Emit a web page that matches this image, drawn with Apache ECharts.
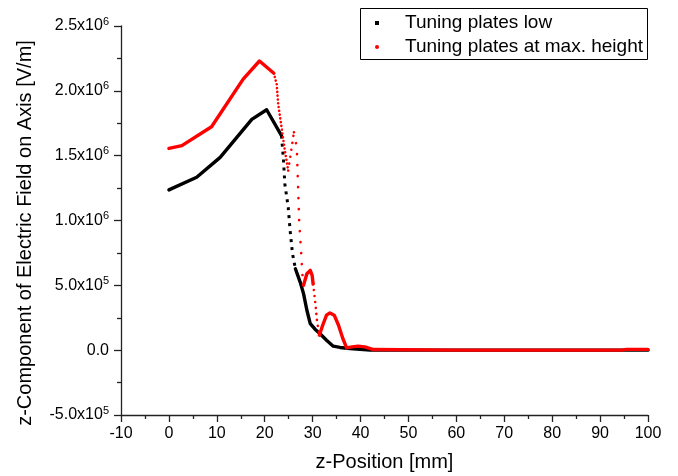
<!DOCTYPE html>
<html><head><meta charset="utf-8">
<script src="https://cdn.jsdelivr.net/npm/echarts@6/dist/echarts.min.js"></script>
<style>html,body{margin:0;padding:0;background:#fff}#c{width:678px;height:476px}</style>
</head><body><div id="c"></div>
<script>
// ---- data ----
const seriesNames = ['Tuning plates low', 'Tuning plates at max. height'];

const lowX = [0, 5.8, 10.7, 17.3, 20.4, 23.5, 23.9, 24.2, 24.9, 25.3, 25.8, 26.4, 27.4, 28.1, 28.8, 29.5, 30.5, 31.5, 32.9, 34.3, 35.7, 37.8, 42, 60, 80, 100];
const lowY = [1.236e6, 1.333e6, 1.487e6, 1.78e6, 1.854e6, 1.655e6, 1.474e6, 1.282e6, 1.102e6, 0.923e6, 0.744e6, 0.628e6, 0.525e6, 0.436e6, 0.308e6, 0.205e6, 0.162e6, 0.128e6, 0.077e6, 0.031e6, 0.021e6, 0.013e6, 0, 0, 0, 0];

const maxX = [0, 2.7, 8.9, 15.5, 18.9, 21.9, 22.5, 22.8, 23.5, 24.2, 24.9, 26.1, 26.7, 26.9, 27.2, 27.6, 27.85, 28.1, 28.8, 29.5, 29.9, 30.1, 30.5, 30.9, 31.4, 32.1, 32.9, 33.6, 34.5, 35.4, 36.3, 37.1, 38.2, 39.5, 40.9, 42.7, 60, 80, 94.5, 95.5, 100];
const maxY = [1.556e6, 1.577e6, 1.723e6, 2.09e6, 2.23e6, 2.136e6, 2.05e6, 1.90e6, 1.72e6, 1.54e6, 1.385e6, 1.68e6, 1.56e6, 1.328e6, 0.987e6, 0.756e6, 0.59e6, 0.5e6, 0.59e6, 0.615e6, 0.577e6, 0.51e6, 0.385e6, 0.23e6, 0.115e6, 0.192e6, 0.27e6, 0.287e6, 0.27e6, 0.192e6, 0.09e6, 0.018e6, 0.025e6, 0.031e6, 0.025e6, 0.005e6, 0, 0, 0, 0.006e6, 0.006e6];

const yTickValues = [-5e5, 0, 5e5, 1e6, 1.5e6, 2e6, 2.5e6];
const yTickLabels = ['-5.0x10^5', '0.0', '5.0x10^5', '1.0x10^6', '1.5x10^6', '2.0x10^6', '2.5x10^6'];

// ---- drawing plan: which index ranges look dotted (sparse samples on steep parts) ----
const lowSegments = [
  {from: 0, to: 5},
  {from: 5, to: 11, dash: [3, 5], w: 3, cap: 'butt'},
  {from: 11, to: lowX.length - 1}
];
const maxSegments = [
  {from: 0, to: 5},
  {from: 5, to: 10, dash: [0.01, 3.8], w: 2.6, cap: 'round'},
  {from: 10, to: 11, dash: [0.01, 7], w: 2.6, cap: 'round'},
  {from: 11, to: 17, dash: [0.01, 11], w: 2.6, cap: 'round'},
  {from: 17, to: 21},
  {from: 21, to: 24, dash: [0.01, 6], w: 2.6, cap: 'round'},
  {from: 24, to: maxX.length - 1}
];

function build(name, xs, ys, segs, color) {
  return segs.map(s => ({
    type: 'line', name: name,
    data: xs.slice(s.from, s.to + 1).map((x, k) => [x, ys[s.from + k]]),
    showSymbol: false, symbol: 'none', animation: false, silent: true,
    lineStyle: {color: color, width: s.dash ? s.w : 3.4, type: s.dash || 'solid',
      cap: s.dash ? s.cap : 'round', join: 'round'},
    itemStyle: {color: color}
  }));
}

const FONT = 'Liberation Sans, Arial, sans-serif';
const axisCol = '#222';

const chart = echarts.init(document.getElementById('c'), null, {renderer: 'canvas'});
chart.setOption({
  backgroundColor: '#fff',
  animation: false,
  grid: {left: 121, right: 30, top: 26, bottom: 61, containLabel: false, outerBoundsMode: 'none'},
  xAxis: {
    type: 'value', min: -10, max: 100, interval: 10,
    name: 'z-Position [mm]', nameLocation: 'middle', nameGap: 37,
    nameTextStyle: {fontSize: 20, fontFamily: FONT, color: '#000'},
    axisLine: {show: true, onZero: false, lineStyle: {color: axisCol, width: 1.3}},
    axisTick: {show: true, inside: false, length: 7, lineStyle: {color: axisCol, width: 1.3}},
    minorTick: {show: true, splitNumber: 2, length: 4, lineStyle: {color: axisCol, width: 1.3}},
    splitLine: {show: false},
    axisLabel: {fontSize: 16, fontFamily: FONT, color: '#000', margin: 11}
  },
  yAxis: {
    type: 'value', min: -5e5, max: 2.5e6, interval: 5e5,
    axisLine: {show: true, onZero: false, lineStyle: {color: axisCol, width: 1.3}},
    axisTick: {show: true, inside: false, length: 7, lineStyle: {color: axisCol, width: 1.3}},
    minorTick: {show: true, splitNumber: 2, length: 4, lineStyle: {color: axisCol, width: 1.3}},
    splitLine: {show: false},
    axisLabel: {
      margin: 12, color: '#000',
      formatter: function (v) {
        const i = yTickValues.indexOf(v);
        const t = i >= 0 ? yTickLabels[i] : String(v);
        const p = t.split('^');
        return p.length > 1 ? '{m|' + p[0] + '}{e|' + p[1] + '}' : '{m|' + p[0] + '}';
      },
      rich: {
        m: {fontSize: 16, fontFamily: FONT, color: '#000', lineHeight: 20},
        e: {fontSize: 11, fontFamily: FONT, color: '#000', verticalAlign: 'top', lineHeight: 14}
      }
    }
  },
  legend: {
    data: [{name: seriesNames[0], icon: 'rect'}, {name: seriesNames[1], icon: 'circle'}],
    orient: 'vertical', left: 375, top: 13, padding: 0,
    itemWidth: 4, itemHeight: 4, itemGap: 4, selectedMode: false,
    textStyle: {fontSize: 19, fontFamily: FONT, color: '#000', lineHeight: 20, padding: [0, 0, 0, 21]}
  },
  graphic: [
    {type: 'rect', silent: true, shape: {x: 360.5, y: 8.5, width: 287, height: 51},
     style: {fill: 'none', stroke: '#000', lineWidth: 1}},
    {type: 'text', silent: true, x: 25, y: 233, rotation: Math.PI / 2,
     style: {text: 'z-Component of Electric Field on Axis [V/m]', fontSize: 20, fontFamily: FONT,
       fill: '#000', align: 'center', verticalAlign: 'middle', textAlign: 'center', textVerticalAlign: 'middle'}}
  ],
  series: [].concat(
    build(seriesNames[0], lowX, lowY, lowSegments, '#000000'),
    build(seriesNames[1], maxX, maxY, maxSegments, '#ff0000')
  )
});
</script>
</body></html>
